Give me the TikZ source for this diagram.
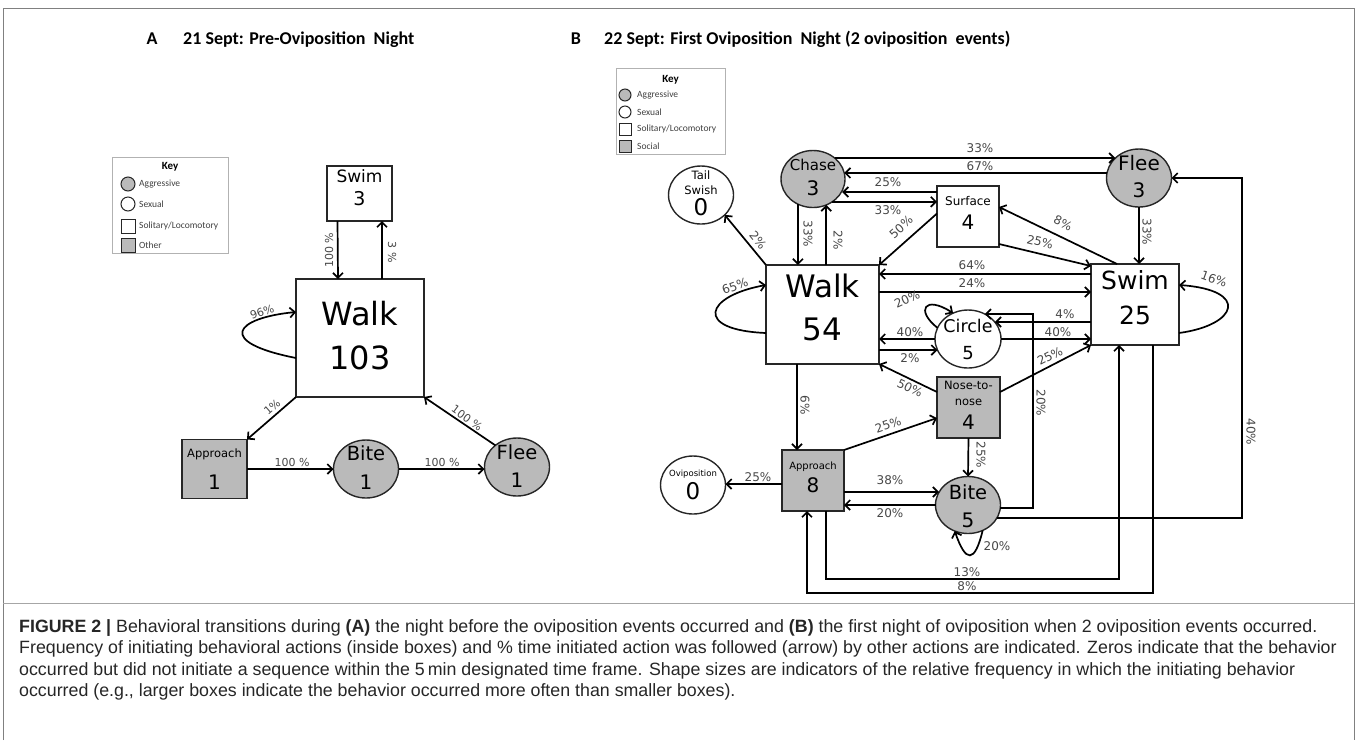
\documentclass[tikz,border=0pt]{standalone}
\usepackage{fontspec}
\usepackage{graphicx}
\usetikzlibrary{shapes.geometric,arrows.meta,calc}
\newfontfamily\nf{DejaVu Sans}
\newfontfamily\kf{Carlito}
\newfontfamily\cf{Liberation Sans}
\newcommand\fsz[1]{\fontsize{#1}{#1}\selectfont}
\newcommand\tx[4]{\node[txt,font=\nf\fsz{#3}] (#1) at (#2) {#4};}
\tikzset{
  shp/.style={draw=black!85, line width=1.4pt, inner sep=0pt, outer sep=0pt},
  bx/.style={shp, rectangle},
  el/.style={shp, ellipse},
  gfill/.style={fill=black!27},
  arr/.style={line width=1.7pt, -{Straight Barb[length=5pt,width=10pt]}, black},
  pct/.style={font=\nf\fsz{11}, text=black!72, inner sep=0pt},
  pctb/.style={font=\nf\fsz{12}, text=black!72, inner sep=0pt},
  txt/.style={inner sep=0pt, anchor=mid, text=black},
  keyt/.style={font=\kf\fsz{9.5}, text=black!75, anchor=west, inner sep=0pt},
  keyc/.style={circle, draw=black!85, line width=1pt, inner sep=0pt},
  keys/.style={rectangle, draw=black!85, line width=1pt, inner sep=0pt},
  keybox/.style={draw=black!30, line width=0.8pt, inner sep=0pt, rectangle},
  ttl/.style={font=\kf\bfseries\fsz{18}, inner sep=0pt},
  capt/.style={font=\cf\fsz{17.8}, text=black!85, inner sep=0pt, anchor=base west},
}
\begin{document}
\begin{tikzpicture}[x=1pt,y=-1pt]
\useasboundingbox (0,0) rectangle (1357,740);
% frame
\draw[black!50, line width=0.8pt] (3,740) -- (3,8) -- (1354,8) -- (1354,740);
\draw[black!35, line width=0.8pt] (3,603) -- (1354,603);

% titles
\node[ttl, anchor=mid] (tA) at (152,42) {A};
\node[ttl, anchor=mid west] (tA2) at (183,42) {21 Sept: Pre-Oviposition\ \ Night};
\node[ttl, anchor=mid] (tB) at (576,42) {B};
\node[ttl, anchor=mid west] (tB2) at (604,42) {22 Sept: First Oviposition\ \ Night (2 oviposition\ \ events)};

% ---------- Key A
\node[keybox, minimum width=116pt, minimum height=96pt] (keyA) at (170,205) {};
\node[font=\kf\bfseries\fsz{11}, inner sep=0pt] (keyAt) at (170,167) {Key};
\node[keyc, fill=black!27, minimum size=14pt] (kA1) at (128,184) {};
\node[keyt] (kA1t) at (139,184) {Aggressive};
\node[keyc, fill=white, minimum size=14pt] (kA2) at (128,204) {};
\node[keyt] (kA2t) at (139,204) {Sexual};
\node[keys, fill=white, minimum width=14pt, minimum height=14pt] (kA3) at (128,226) {};
\node[keyt] (kA3t) at (139,226) {Solitary/Locomotory};
\node[keys, fill=black!27, minimum width=14pt, minimum height=14pt] (kA4) at (128,245) {};
\node[keyt] (kA4t) at (139,245) {Other};

% ---------- Key B
\node[keybox, minimum width=109pt, minimum height=86pt] (keyB) at (670.5,111) {};
\node[font=\kf\bfseries\fsz{11}, inner sep=0pt] (keyBt) at (670.5,80) {Key};
\node[keyc, fill=black!27, minimum size=12pt] (kB1) at (625,95) {};
\node[keyt] (kB1t) at (637,95) {Aggressive};
\node[keyc, fill=white, minimum size=12pt] (kB2) at (625,112) {};
\node[keyt] (kB2t) at (637,112) {Sexual};
\node[keys, fill=white, minimum width=12pt, minimum height=12pt] (kB3) at (625,129) {};
\node[keyt] (kB3t) at (637,129) {Solitary/Locomotory};
\node[keys, fill=black!27, minimum width=12pt, minimum height=12pt] (kB4) at (625,146) {};
\node[keyt] (kB4t) at (637,146) {Social};

% ---------- Panel A nodes
\node[bx, fill=white, minimum width=65pt, minimum height=55pt] (swimA) at (359.5,193.5) {};
\tx{swimAt}{359.5,180}{17}{Swim}
\tx{swimAn}{359.5,203}{19}{3}
\node[bx, fill=white, minimum width=128pt, minimum height=118pt] (walkA) at (360,338) {};
\tx{walkAt}{360,323}{32}{Walk}
\tx{walkAn}{360,367}{32}{103}
\node[bx, gfill, minimum width=65pt, minimum height=59pt] (appA) at (214.5,469) {};
\tx{appAt}{214.5,455}{11.5}{Approach}
\tx{appAn}{214.5,487}{20}{1}
\node[el, gfill, minimum width=65pt, minimum height=58pt] (biteA) at (366,469) {};
\tx{biteAt}{366,458}{19.5}{Bite}
\tx{biteAn}{366,487}{20}{1}
\node[el, gfill, minimum width=65pt, minimum height=58pt] (fleeA) at (517,467) {};
\tx{fleeAt}{517,457}{19.5}{Flee}
\tx{fleeAn}{517,485}{20}{1}

% ---------- Panel A edges
\draw[arr] ([xshift=-22pt]swimA.south) -- ([xshift=-22pt]walkA.north);
\node[pct, rotate=90] (lA1) at (329,250) {100 \%};
\draw[arr] ([xshift=22pt]walkA.north) -- ([xshift=22.5pt]swimA.south);
\node[pct, rotate=-90] (lA2) at (392,252) {3 \%};
\draw[arr] ([yshift=-20pt]walkA.west) .. controls +(-81,-16) and +(-61,6) .. ([yshift=26pt]walkA.west);
\node[pct, rotate=20] (lA3) at (262,312) {96\%};
\draw[arr] (walkA.south west) -- (appA.north east);
\node[pct, rotate=41] (lA4) at (272,407) {1\%};
\draw[arr] (appA.east) -- (appA.east -| biteA.west);
\node[pct] (lA5) at (292,462) {100 \%};
\draw[arr] (biteA.east) -- (biteA.east -| fleeA.west);
\node[pct] (lA6) at (442,462) {100 \%};
\draw[arr] (fleeA.135) -- (walkA.south east);
\node[pct, rotate=-36] (lA7) at (467,418) {100 \%};

% ---------- Panel B nodes
\node[el, gfill, minimum width=64pt, minimum height=57pt] (chase) at (813,179) {};
\tx{chaset}{813,168}{15}{Chase}
\tx{chasen}{813,193}{20}{3}
\node[el, fill=white, minimum width=65pt, minimum height=58pt] (tail) at (701,195) {};
\tx{tailt1}{701,177}{11.5}{Tail}
\tx{tailt2}{701,192}{11.5}{Swish}
\tx{tailn}{701,213}{23}{0}
\node[bx, fill=white, minimum width=62pt, minimum height=61pt] (surf) at (968,216.5) {};
\tx{surft}{968,203}{12}{Surface}
\tx{surfn}{968,227}{20}{4}
\node[bx, fill=white, minimum width=113pt, minimum height=99pt] (walkB) at (822.5,314.5) {};
\tx{walkBt}{822.5,295}{31}{Walk}
\tx{walkBn}{822.5,338}{31}{54}
\node[bx, fill=white, minimum width=88pt, minimum height=81pt] (swimB) at (1135,304.5) {};
\tx{swimBt}{1135,287}{25}{Swim}
\tx{swimBn}{1135,322}{25}{25}
\node[el, gfill, minimum width=65pt, minimum height=58pt] (fleeB) at (1139,178) {};
\tx{fleeBt}{1139,168}{20}{Flee}
\tx{fleeBn}{1139,195}{20}{3}
\node[el, fill=white, minimum width=66pt, minimum height=58pt] (circ) at (968,339) {};
\tx{circt}{968,330}{17.5}{Circle}
\tx{circn}{968,357}{18}{5}
\node[bx, gfill, minimum width=63pt, minimum height=61pt] (nose) at (968.5,407.5) {};
\tx{noset1}{968.5,387}{11.5}{Nose-to-}
\tx{noset2}{968.5,403}{11.5}{nose}
\tx{nosen}{968.5,427}{20}{4}
\node[bx, gfill, minimum width=62pt, minimum height=61pt] (appB) at (813,480.5) {};
\tx{appBt}{813,467}{10}{Approach}
\tx{appBn}{813,490}{20}{8}
\node[el, fill=white, minimum width=65pt, minimum height=58pt] (ovi) at (693,485) {};
\tx{ovit}{693,474}{8.5}{Oviposition}
\tx{ovin}{693,497}{23}{0}
\node[el, gfill, minimum width=65pt, minimum height=57pt] (biteB) at (968,505) {};
\tx{biteBt}{968,497}{19.5}{Bite}
\tx{biteBn}{968,525}{20}{5}

% ---------- Panel B edges
\draw[arr] (chase.44) -- (chase.44 -| fleeB.140);
\node[pctb] (lB1) at (980,148) {33\%};
\draw[arr] (fleeB.171) -- (fleeB.171 -| chase.11);
\node[pctb] (lB2) at (980,166) {67\%};
\coordinate (s25) at ([yshift=24.5pt]surf.west);
\draw[arr] (s25) -- (s25 -| chase.338);
\node[pctb] (lB3) at (888,182) {25\%};
\draw[arr] (chase.310) -- (chase.310 -| surf.west);
\node[pctb] (lB4) at (888,210) {33\%};
\draw[arr] (chase.239) -- (chase.239 |- walkB.north);
\node[pctb, rotate=-90] (lB5) at (808,234) {33\%};
\draw[arr] (walkB.north -| chase.297) -- (chase.297);
\node[pctb, rotate=-90] (lB6) at (838,240) {2\%};
\draw[arr] (walkB.north west) -- (tail.320);
\node[pctb, rotate=-51] (lB7) at (758,240) {2\%};
\draw[arr] ([yshift=3pt]surf.west) -- (walkB.north east);
\node[pctb, rotate=42] (lB8) at (901,227) {50\%};
\draw[arr] ([xshift=-18pt]swimB.north) -- ([yshift=9.5pt]surf.east);
\node[pctb, rotate=-26] (lB9) at (1063,223) {8\%};
\draw[arr] ([yshift=-27.5pt]surf.east) -- ([yshift=-2pt]swimB.north west);
\node[pctb, rotate=-14] (lB10) at (1040,242) {25\%};
\coordinate (s64) at ([yshift=30.5pt]swimB.west);
\draw[arr] (s64) -- (s64 -| walkB.east);
\node[pctb] (lB11) at (972,265) {64\%};
\coordinate (s24) at ([yshift=12.5pt]swimB.west);
\draw[arr] (s24 -| walkB.east) -- (s24);
\node[pctb] (lB12) at (972,283) {24\%};
\draw[arr] (circ.160) .. controls (915,310) and (925,295) .. (circ.120);
\node[pctb, rotate=25] (lB13) at (907,299) {20\%};
\draw[arr] (circ.west) -- (circ.west -| walkB.east);
\node[pctb] (lB14) at (910,332) {40\%};
\draw[arr] (walkB.east |- circ.200) -- (circ.200);
\node[pctb] (lB15) at (910,358) {2\%};
\coordinate (s4) at ([yshift=-17.5pt]swimB.west);
\draw[arr] (s4) -- (s4 -| circ.32);
\node[pctb] (lB16) at (1065,314) {4\%};
\draw[arr] (circ.east) -- (circ.east -| swimB.west);
\node[pctb] (lB17) at (1058,332) {40\%};
\coordinate (k20) at (1033,0);
\draw[arr] (biteB.355) -| (k20 |- circ.56) -- (circ.56);
\node[pctb, rotate=-90] (lB18) at (1041,403) {20\%};
\draw[arr] ([yshift=15.5pt]nose.west) -- (walkB.south east);
\node[pctb, rotate=-26] (lB19) at (910,388) {50\%};
\draw[arr] ([yshift=-15pt]nose.north east) -- (swimB.south west);
\node[pctb, rotate=27] (lB20) at (1050,356) {25\%};
\coordinate (w6) at ([xshift=-25.5pt]walkB.south);
\draw[arr] (w6) -- (w6 |- appB.north);
\node[pctb, rotate=-90] (lB21) at (805,405) {6\%};
\draw[arr] (appB.north east) -- ([yshift=-10.5pt]nose.west);
\node[pctb, rotate=19] (lB22) at (888,425) {25\%};
\draw[arr] (nose.south) -- (biteB.north);
\node[pctb, rotate=-90] (lB23) at (981,455) {25\%};
\coordinate (a38) at ([yshift=-11.5pt]appB.east);
\draw[arr] (a38) -- (a38 -| biteB.156);
\node[pctb] (lB24) at (890,480) {38\%};
\draw[arr] (biteB.west) -- (biteB.west -| appB.east);
\node[pctb] (lB25) at (890,513) {20\%};
\coordinate (a25) at ([yshift=-3.5pt]appB.west);
\draw[arr] (a25) -- (a25 -| ovi.east);
\node[pctb] (lB26) at (758,477) {25\%};
\draw[arr] (biteB.300) .. controls +(-8,33) and +(11,32) .. (biteB.243);
\node[pctb] (lB27) at (997,546) {20\%};
\coordinate (rx) at (1242,0);
\draw[arr] (biteB.336) -| (rx |- fleeB.east) -- (fleeB.east);
\node[pctb, rotate=-90] (lB28) at (1251,432) {40\%};
\coordinate (p13) at ([xshift=13pt]appB.south);
\coordinate (q13) at ([xshift=-16pt]swimB.south);
\coordinate (y13) at (0,579);
\draw[arr] (p13) -- (p13 |- y13) -- (q13 |- y13) -- (q13);
\node[pctb] (lB29) at (967,572) {13\%};
\coordinate (p8) at ([xshift=18pt]swimB.south);
\coordinate (q8) at ([xshift=-6pt]appB.south);
\coordinate (y8) at (0,593);
\draw[arr] (p8) -- (p8 |- y8) -- (q8 |- y8) -- (q8);
\node[pctb] (lB30) at (967,586) {8\%};
\draw[arr] (fleeB.south) -- (fleeB.south |- swimB.north);
\node[pctb, rotate=-90] (lB31) at (1147,232) {33\%};
\draw[arr] ([yshift=-28.5pt]swimB.east) .. controls (1238,325) and (1250,290) .. ([yshift=19.5pt]swimB.east);
\node[pctb, rotate=-20] (lB32) at (1214,279) {16\%};
\draw[arr] ([yshift=-18.5pt]walkB.west) .. controls (693,330) and (705,296) .. ([yshift=29.5pt]walkB.west);
\node[pctb, rotate=20] (lB33) at (735,286) {65\%};

% ---------- caption
\node[capt] (cap1) at (19,632) {\textbf{FIGURE 2 |} Behavioral transitions during \textbf{(A)} the night before the oviposition events occurred and \textbf{(B)} the first night of oviposition when 2 oviposition events occurred.};
\node[capt] (cap2) at (19,653.5) {Frequency of initiating behavioral actions (inside boxes) and \% time initiated action was followed (arrow) by other actions are indicated. Zeros indicate that the behavior};
\node[capt] (cap3) at (19,675) {occurred but did not initiate a sequence within the 5\,min designated time frame. Shape sizes are indicators of the relative frequency in which the initiating behavior};
\node[capt] (cap4) at (19,696.5) {occurred (e.g., larger boxes indicate the behavior occurred more often than smaller boxes).};
\end{tikzpicture}
\end{document}
